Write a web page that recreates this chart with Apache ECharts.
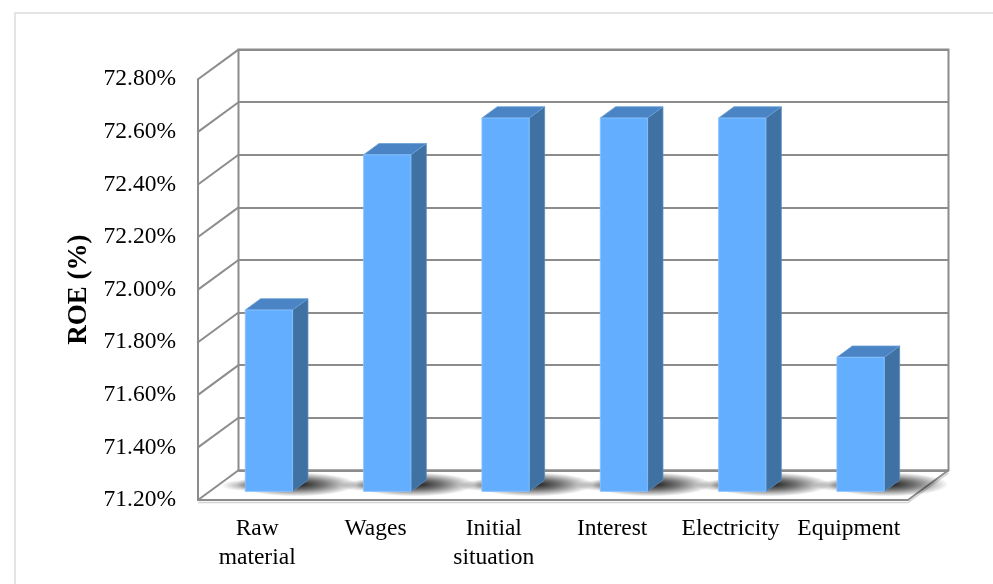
<!DOCTYPE html>
<html>
<head>
<meta charset="utf-8">
<script src="https://cdn.jsdelivr.net/npm/echarts@6/dist/echarts.min.js"></script>
<style>
  html, body { margin: 0; padding: 0; background: #ffffff; }
  #chart { width: 993px; height: 584px; }
</style>
</head>
<body>
<div id="chart"></div>
<script>
// ROE under each scenario
const categories = ['Raw\nmaterial', 'Wages', 'Initial\nsituation', 'Interest', 'Electricity', 'Equipment'];
const roeValues = [71.89, 72.48, 72.62, 72.62, 72.62, 71.71];
const yTicks = [71.2, 71.4, 71.6, 71.8, 72.0, 72.2, 72.4, 72.6, 72.8];
const yMin = 71.2;
const yMax = 72.8;
const yStep = 0.2;

// oblique depth of the chart box (pixels from front plane to back wall)
const DX = 40.5;
const DY = -29.7;
// bar front / back faces as a fraction of the depth
const T_FRONT = 0.29;
const T_BACK = 0.67;
const LINE = '#8c8c8c';
const FONT = '"Liberation Serif", "Times New Roman", serif';

const chart = echarts.init(document.getElementById('chart'), null, { renderer: 'canvas' });

function wallLine(params, api) {
  const cs = params.coordSys;
  const p = api.coord([0, api.value(1)]);
  return {
    type: 'line',
    shape: { x1: cs.x, y1: p[1], x2: cs.x + DX, y2: p[1] + DY },
    style: { stroke: LINE, lineWidth: 2 }
  };
}

function floorShape(params, api) {
  const cs = params.coordSys;
  const yb = cs.y + cs.height;
  const xl = cs.x, xr = cs.x + cs.width;
  return {
    type: 'group',
    children: [
      {
        type: 'polyline',
        shape: { points: [[xl, yb + 2.5], [xr, yb + 2.5], [xr + DX, yb + DY + 2.5]] },
        style: { stroke: '#d4d4d4', lineWidth: 1.5, fill: null }
      },
      {
        type: 'line',
        shape: { x1: xr, y1: yb, x2: xr + DX, y2: yb + DY },
        style: { stroke: LINE, lineWidth: 2 }
      }
    ]
  };
}

function bar3d(params, api) {
  const i = api.value(0);
  const v = api.value(1);
  const base = api.coord([i, yMin]);
  const top = api.coord([i, v]);
  const hw = api.size([1, 0])[0] * 0.4 / 2;
  const s1x = DX * T_FRONT, s1y = DY * T_FRONT;
  const s2x = DX * T_BACK, s2y = DY * T_BACK;
  const L = base[0] - hw + s1x, R = base[0] + hw + s1x;
  const yT = top[1] + s1y, yB = base[1] + s1y;
  const ddx = s2x - s1x, ddy = s2y - s1y;
  return {
    type: 'group',
    children: [
      // soft contact shadow on the floor, falling back and to the right
      {
        type: 'circle',
        x: R + 4,
        y: yB - 7,
        scaleY: 0.2,
        shape: { cx: 0, cy: 0, r: 60 },
        style: {
          fill: {
            type: 'radial', x: 0.5, y: 0.5, r: 0.5,
            colorStops: [
              { offset: 0, color: 'rgba(0,0,0,0.9)' },
              { offset: 0.45, color: 'rgba(0,0,0,0.55)' },
              { offset: 1, color: 'rgba(0,0,0,0)' }
            ]
          }
        }
      },
      {
        type: 'circle',
        x: L + 2,
        y: yB - 6,
        scaleY: 0.22,
        shape: { cx: 0, cy: 0, r: 26 },
        style: {
          fill: {
            type: 'radial', x: 0.5, y: 0.5, r: 0.5,
            colorStops: [
              { offset: 0, color: 'rgba(0,0,0,0.4)' },
              { offset: 1, color: 'rgba(0,0,0,0)' }
            ]
          }
        }
      },
      {
        type: 'polygon',
        shape: { points: [[R, yT], [R + ddx, yT + ddy], [R + ddx, yB + ddy], [R, yB]] },
        style: { fill: '#3f72a3', stroke: '#5a8cc0', lineWidth: 0.8 }
      },
      {
        type: 'polygon',
        shape: { points: [[L, yT], [R, yT], [R + ddx, yT + ddy], [L + ddx, yT + ddy]] },
        style: { fill: '#4a84c4', stroke: '#6a9fd6', lineWidth: 0.8 }
      },
      {
        type: 'rect',
        shape: { x: L, y: yT, width: R - L, height: yB - yT },
        style: { fill: '#63aeff', stroke: '#8cc4ff', lineWidth: 0.8 }
      }
    ]
  };
}

const option = {
  backgroundColor: '#ffffff',
  animation: false,
  graphic: [
    {
      type: 'polyline',
      shape: { points: [[15, 584], [15, 13], [993, 13]] },
      style: { stroke: '#dcdcdc', lineWidth: 1.5, fill: null },
      silent: true
    }
  ],
  grid: [
    // front plane: values and category labels
    { left: 198, top: 79.3, width: 710, height: 420.7, show: false },
    // back wall
    { left: 198 + DX, top: 79.3 + DY, width: 710, height: 420.7, show: true,
      borderColor: LINE, borderWidth: 2, backgroundColor: 'transparent' }
  ],
  xAxis: [
    {
      type: 'category', gridIndex: 0, data: categories,
      axisLine: { show: true, lineStyle: { color: LINE, width: 2 } },
      axisTick: { show: false },
      axisLabel: { color: '#000000', fontFamily: FONT, fontSize: 23.5, lineHeight: 29, margin: 14, interval: 0 }
    },
    {
      type: 'category', gridIndex: 1, data: categories,
      axisLine: { show: false }, axisTick: { show: false }, axisLabel: { show: false }
    }
  ],
  yAxis: [
    {
      type: 'value', gridIndex: 0, min: yMin, max: yMax, interval: yStep,
      name: 'ROE (%)', nameLocation: 'middle', nameGap: 104, nameRotate: 90,
      nameTextStyle: { color: '#000000', fontFamily: FONT, fontSize: 27, fontWeight: 'bold' },
      axisLine: { show: true, lineStyle: { color: LINE, width: 2 } },
      axisTick: { show: false },
      splitLine: { show: false },
      axisLabel: {
        color: '#000000', fontFamily: FONT, fontSize: 23.5, margin: 22,
        formatter: (val) => val.toFixed(2) + '%'
      }
    },
    {
      type: 'value', gridIndex: 1, min: yMin, max: yMax, interval: yStep,
      axisLine: { show: false }, axisTick: { show: false }, axisLabel: { show: false },
      splitLine: { show: true, lineStyle: { color: LINE, width: 2 } }
    }
  ],
  series: [
    {
      type: 'custom', xAxisIndex: 0, yAxisIndex: 0, silent: true,
      renderItem: wallLine,
      data: yTicks.map((t) => [0, t]),
      z: 2
    },
    {
      type: 'custom', xAxisIndex: 0, yAxisIndex: 0, silent: true,
      renderItem: floorShape,
      data: [[0, yMin]],
      z: 2
    },
    {
      type: 'custom', xAxisIndex: 0, yAxisIndex: 0,
      renderItem: bar3d,
      data: roeValues.map((v, i) => [i, v]),
      z: 3
    }
  ]
};

chart.setOption(option);
</script>
</body>
</html>
